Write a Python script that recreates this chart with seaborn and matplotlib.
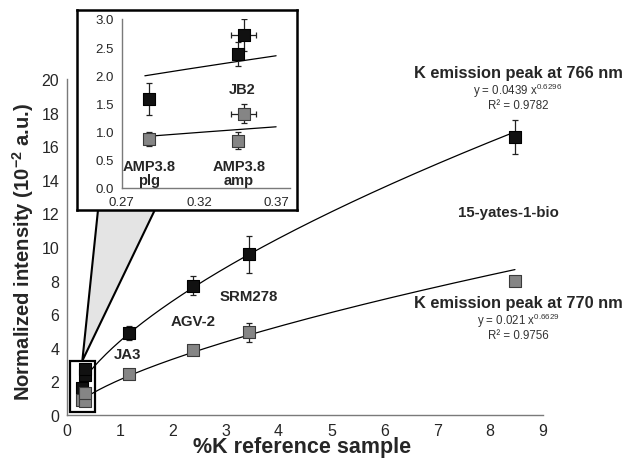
import numpy as np
import pandas as pd
import seaborn as sns
import matplotlib.pyplot as plt
from matplotlib.patches import Polygon, Rectangle

# ---------- data ----------
samples = ["AMP3.8 plg", "AMP3.8 amp", "JB2", "JA3", "AGV-2", "SRM278", "15-yates-1-bio"]
k_pct = [0.288, 0.345, 0.349, 1.18, 2.39, 3.45, 8.47]
k_err = [0.0, 0.0, 0.008, 0.0, 0.0, 0.0, 0.0]
int_766 = [1.58, 2.38, 2.72, 4.88, 7.70, 9.56, 16.55]
err_766 = [0.28, 0.22, 0.28, 0.42, 0.58, 1.10, 1.00]
int_770 = [0.87, 0.84, 1.32, 2.42, 3.89, 4.92, 8.00]
err_770 = [0.12, 0.15, 0.17, 0.10, 0.10, 0.55, 0.30]

# power-law fits shown on the chart (y in a.u., plotted in 10^-2 a.u.)
fit_766 = (0.0439, 0.6296, 0.9782)
fit_770 = (0.021, 0.6629, 0.9756)

sns.set_style("white")
plt.rcParams["font.family"] = ["Liberation Sans", "DejaVu Sans"]
plt.rcParams["mathtext.fontset"] = "custom"
plt.rcParams["mathtext.rm"] = "Liberation Sans"
plt.rcParams["mathtext.bf"] = "Liberation Sans:bold"

BLACK = "#111111"
GREY = "#858585"
AXC = "#7a7a7a"

df = pd.DataFrame({"sample": samples, "k": k_pct, "k_err": k_err,
                   "i766": int_766, "e766": err_766,
                   "i770": int_770, "e770": err_770})


def fit_curve(coef, x0, x1):
    x = np.linspace(x0, x1, 200)
    return pd.DataFrame({"x": x, "y": 100 * coef[0] * x ** coef[1]})


def draw_series(ax, d, size):
    for col, ecol, face, edge in [("i766", "e766", BLACK, "black"),
                                   ("i770", "e770", GREY, "#3a3a3a")]:
        ax.errorbar(d["k"], d[col], yerr=d[ecol], xerr=d["k_err"], fmt="none",
                    ecolor="#222222", elinewidth=0.9, capsize=2.5, capthick=0.9, zorder=2)
        sns.scatterplot(x=d["k"], y=d[col], marker="s", s=size, color=face,
                        edgecolor=edge, linewidth=0.8, zorder=3, ax=ax)


def style_axes(ax, labelsize):
    for s in ["top", "right"]:
        ax.spines[s].set_visible(False)
    for s in ["left", "bottom"]:
        ax.spines[s].set_color(AXC)
        ax.spines[s].set_linewidth(1.0)
    ax.tick_params(axis="both", direction="out", length=3.5, width=1.0,
                   color=AXC, labelsize=labelsize, pad=2)
    ax.set_xlabel("")
    ax.set_ylabel("")


fig = plt.figure(figsize=(6.27, 4.60), dpi=100)

# ---------- main axes ----------
ax = fig.add_axes([67 / 627, 44 / 460, 476 / 627, 336 / 460])
for coef in (fit_766, fit_770):
    c = fit_curve(coef, min(k_pct), max(k_pct))
    sns.lineplot(data=c, x="x", y="y", color="black", linewidth=0.9, ax=ax, zorder=1)
draw_series(ax, df, 64)
ax.set_xlim(0, 9)
ax.set_ylim(0, 20)
ax.set_xticks(range(0, 10))
ax.set_yticks(range(0, 21, 2))
style_axes(ax, 11.5)

fig.text(302 / 627, 12 / 460, "%K reference sample", ha="center", va="center",
         fontsize=15.5, fontweight="bold")
fig.text(23 / 627, 208 / 460, r"Normalized intensity (10$^{\mathbf{-2}}$ a.u.)",
         ha="center", va="center", rotation=90, fontsize=14.6, fontweight="bold")

# sample labels
for name, x, y in [("JA3", 1.15, 3.63), ("AGV-2", 2.38, 5.6),
                   ("SRM278", 3.44, 7.08), ("15-yates-1-bio", 8.34, 12.08)]:
    ax.text(x, y, name, ha="center", va="center", fontsize=10.8, fontweight="bold")

# fit annotations
for coef, ytitle, nm in [(fit_766, 20.36, "766"), (fit_770, 6.67, "770")]:
    ax.text(8.53, ytitle, f"K emission peak at {nm} nm", ha="center", va="center",
            fontsize=11.8, fontweight="bold", clip_on=False)
    ax.text(8.53, ytitle - 1.0, f"y = {coef[0]} x$^{{{coef[1]}}}$", ha="center",
            va="center", fontsize=8.3, color="#333333", clip_on=False)
    ax.text(8.53, ytitle - 1.9, f"R² = {coef[2]}", ha="center", va="center",
            fontsize=8.3, color="#333333", clip_on=False)

# zoom box and wedge
ax.add_patch(Rectangle((0.06, 0.18), 0.46, 3.05, fill=False, edgecolor="black",
                       linewidth=1.6, zorder=4, clip_on=False))
ax.add_patch(Polygon([(0.29, 3.23), (0.586, 12.2), (1.66, 12.2)], closed=True,
                     facecolor="#e4e4e4", edgecolor="black", linewidth=1.5,
                     zorder=0.5, clip_on=False))

# ---------- inset ----------
frame = fig.add_axes([77 / 627, 249 / 460, 220 / 627, 200 / 460])
frame.set_xticks([])
frame.set_yticks([])
frame.set_facecolor("white")
for s in frame.spines.values():
    s.set_linewidth(1.8)
    s.set_color("black")

ins = fig.add_axes([121.7 / 627, 271 / 460, 168.3 / 627, 169 / 460])
ins.patch.set_alpha(0)
inset_df = df[df["k"] < 0.5]
for coef in (fit_766, fit_770):
    c = fit_curve(coef, 0.285, 0.37)
    sns.lineplot(data=c, x="x", y="y", color="black", linewidth=0.9, ax=ins, zorder=1)
draw_series(ins, inset_df, 80)
ins.set_xlim(0.27, 0.379)
ins.set_ylim(0, 3.0)
ins.set_xticks([0.27, 0.32, 0.37])
ins.set_xticklabels(["0.27", "0.32", "0.37"])
ins.set_yticks(np.arange(0, 3.01, 0.5))
ins.set_yticklabels([f"{v:.1f}" for v in np.arange(0, 3.01, 0.5)])
style_axes(ins, 9.5)

ins.text(0.348, 1.76, "JB2", ha="center", va="center", fontsize=10.5, fontweight="bold")
ins.text(0.288, 0.27, "AMP3.8\nplg", ha="center", va="center", fontsize=10.5,
         fontweight="bold", linespacing=1.05)
ins.text(0.346, 0.27, "AMP3.8\namp", ha="center", va="center", fontsize=10.5,
         fontweight="bold", linespacing=1.05)

fig.savefig("out.png", dpi=100)
